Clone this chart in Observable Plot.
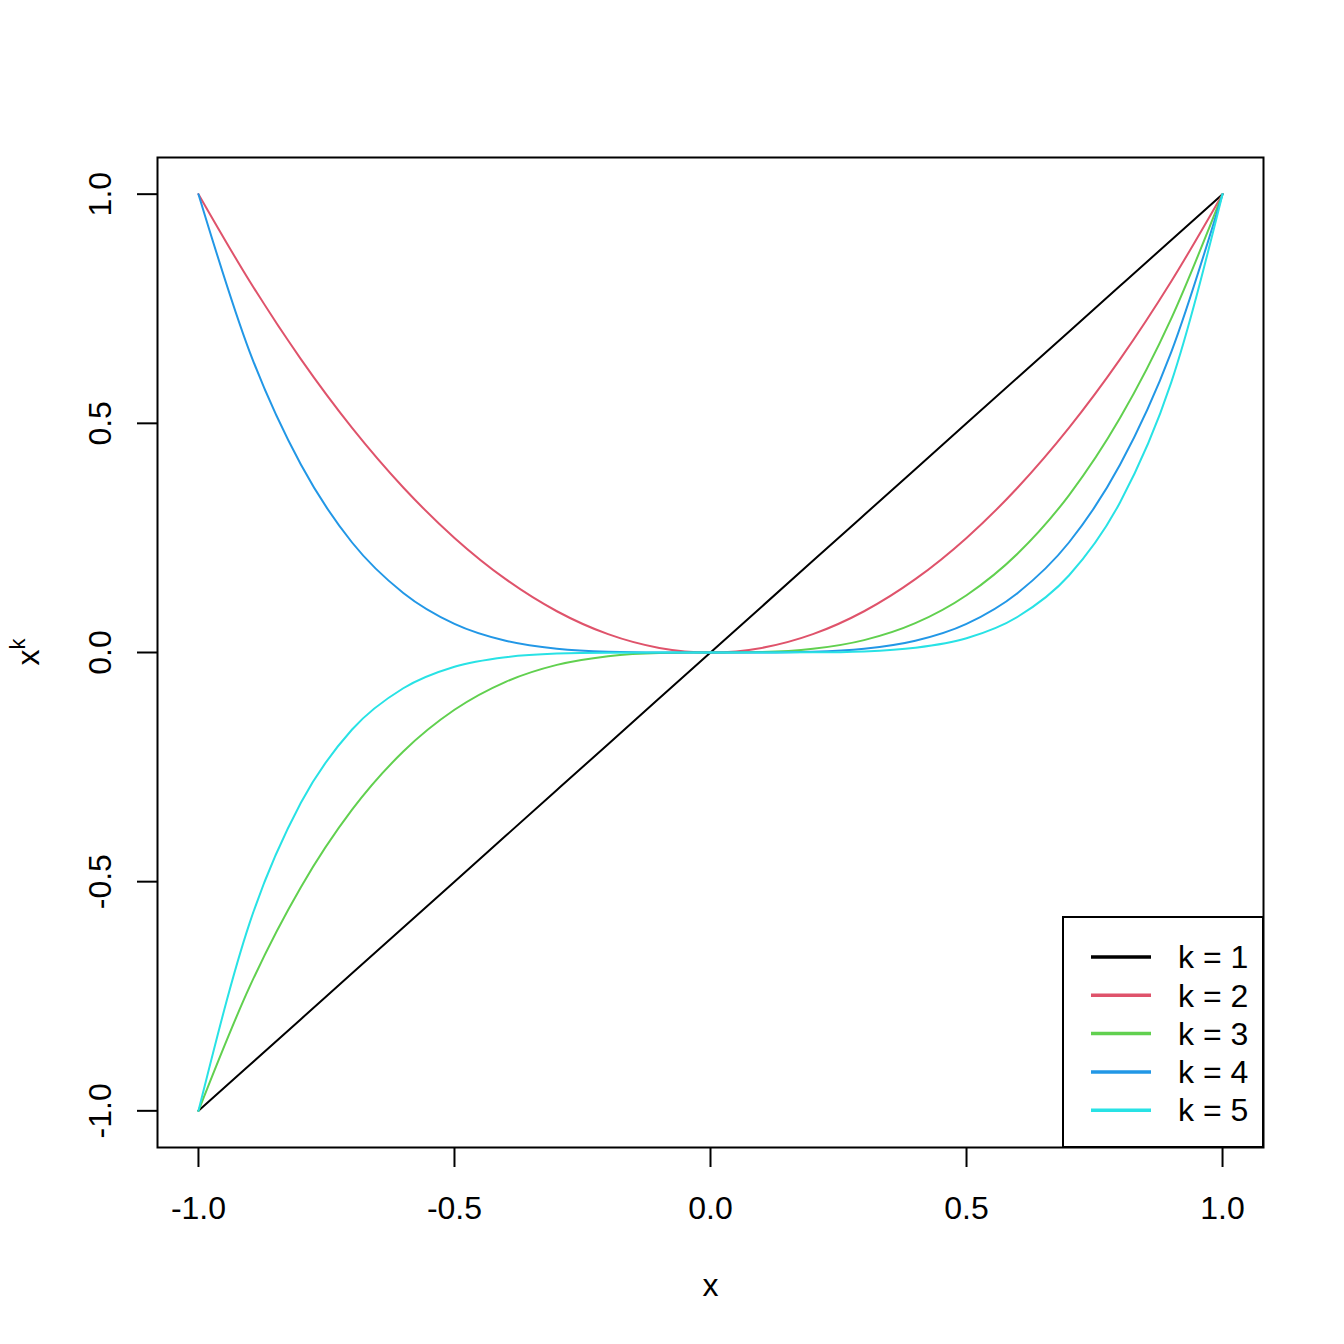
<!DOCTYPE html>
<html>
<head>
<meta charset="utf-8">
<script src="https://cdn.jsdelivr.net/npm/d3@7"></script>
<script src="https://cdn.jsdelivr.net/npm/@observablehq/plot@0.6"></script>
<style>
  html, body { margin: 0; padding: 0; background: #fff; }
  #chart svg { display: block; font-family: "Liberation Sans", Arial, sans-serif; }
</style>
</head>
<body>
<div id="chart"></div>
<script>
// ---- data ----
const xs = [-1, -0.9, -0.8, -0.7, -0.6, -0.5, -0.4, -0.3, -0.2, -0.1, 0, 0.1, 0.2, 0.3, 0.4, 0.5, 0.6, 0.7, 0.8, 0.9, 1];
const k1 = [-1, -0.9, -0.8, -0.7, -0.6, -0.5, -0.4, -0.3, -0.2, -0.1, 0, 0.1, 0.2, 0.3, 0.4, 0.5, 0.6, 0.7, 0.8, 0.9, 1];
const k2 = [1, 0.81, 0.64, 0.49, 0.36, 0.25, 0.16, 0.09, 0.04, 0.01, 0, 0.01, 0.04, 0.09, 0.16, 0.25, 0.36, 0.49, 0.64, 0.81, 1];
const k3 = [-1, -0.729, -0.512, -0.343, -0.216, -0.125, -0.064, -0.027, -0.008, -0.001, 0, 0.001, 0.008, 0.027, 0.064, 0.125, 0.216, 0.343, 0.512, 0.729, 1];
const k4 = [1, 0.656, 0.41, 0.24, 0.13, 0.0625, 0.0256, 0.0081, 0.0016, 0.0001, 0, 0.0001, 0.0016, 0.0081, 0.0256, 0.0625, 0.13, 0.24, 0.41, 0.656, 1];
const k5 = [-1, -0.59, -0.328, -0.168, -0.078, -0.031, -0.0102, -0.0024, -0.0003, 0, 0, 0, 0.0003, 0.0024, 0.0102, 0.031, 0.078, 0.168, 0.328, 0.59, 1];
const seriesNames = ["k = 1", "k = 2", "k = 3", "k = 4", "k = 5"];
const seriesValues = [k1, k2, k3, k4, k5];
const colors = ["#000000", "#DF536B", "#61D04F", "#2297E6", "#28E2E5"];
const xTicks = [-1, -0.5, 0, 0.5, 1];
const yTicks = [-1, -0.5, 0, 0.5, 1];

const rows = [];
seriesNames.forEach((s, i) => xs.forEach((x, j) => rows.push({series: s, x, y: seriesValues[i][j]})));

const fmt = d => d.toFixed(1);
const font = "Liberation Sans, Arial, sans-serif";

const plot = Plot.plot({
  width: 1344,
  height: 1344,
  marginLeft: 157,
  marginRight: 81,
  marginTop: 157,
  marginBottom: 197,
  style: {fontFamily: font, background: "#fff"},
  x: {domain: [-1.08, 1.08]},
  y: {domain: [-1.08, 1.08]},
  color: {domain: seriesNames, range: colors},
  marks: [
    Plot.line(rows, {x: "x", y: "y", z: "series", stroke: "series", strokeWidth: 2, curve: "monotone-x"}),
    Plot.frame({stroke: "#000", strokeWidth: 2}),
    Plot.axisX({ticks: xTicks, tickFormat: fmt, tickSize: 20, tickPadding: 29, fontSize: 32, stroke: "#000", strokeWidth: 2, label: null, color: "#000"}),
    Plot.axisY({ticks: yTicks, tickFormat: () => "", tickSize: 20, stroke: "#000", strokeWidth: 2, label: null}),
    Plot.text(yTicks, {y: d => d, text: fmt, frameAnchor: "left", dx: -57, rotate: -90, textAnchor: "middle", lineAnchor: "middle", fontSize: 32, fill: "#000"}),
    Plot.text(["x"], {frameAnchor: "bottom", dy: 138, text: d => d, textAnchor: "middle", lineAnchor: "middle", fontSize: 32, fill: "#000"})
  ]
});
document.getElementById("chart").appendChild(plot);

const svg = d3.select(plot);
// y axis title x^k (rotated)
const yt = svg.append("text")
  .attr("transform", "translate(39,652) rotate(-90)")
  .attr("text-anchor", "middle")
  .attr("font-family", font)
  .attr("font-size", 32)
  .attr("fill", "#000");
yt.append("tspan").text("x");
yt.append("tspan").attr("dy", -14).attr("font-size", 22).text("k");

// legend
const lg = svg.append("g").attr("text-anchor", "start");
lg.append("rect").attr("x", 1063).attr("y", 917).attr("width", 200).attr("height", 230)
  .attr("fill", "#fff").attr("stroke", "#000").attr("stroke-width", 2);
seriesNames.forEach((s, i) => {
  const yy = 957 + i * 38.3;
  lg.append("line").attr("x1", 1091).attr("x2", 1151).attr("y1", yy).attr("y2", yy)
    .attr("stroke", colors[i]).attr("stroke-width", 3.5);
  lg.append("text").attr("x", 1178).attr("y", yy).attr("dy", "0.35em")
    .attr("text-anchor", "start")
    .attr("font-family", font).attr("font-size", 32).attr("fill", "#000").text(s);
});
</script>
</body>
</html>
